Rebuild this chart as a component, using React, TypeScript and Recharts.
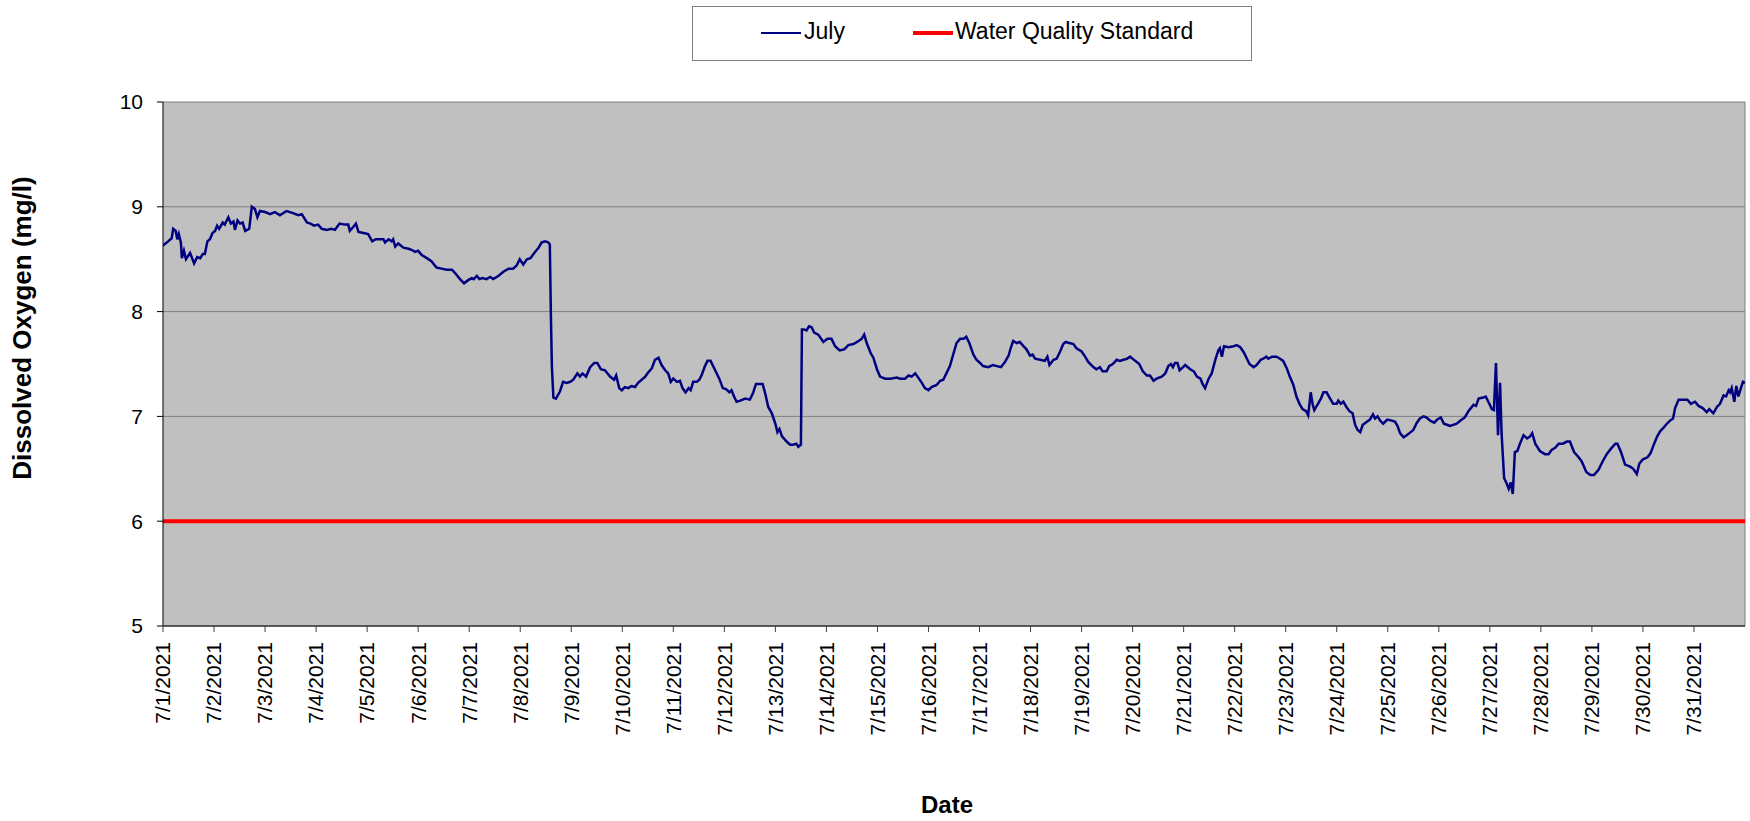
import React from 'react';
import { CartesianGrid, Label, Line, LineChart, ReferenceLine, XAxis, YAxis } from 'recharts';

const FONT = '"Liberation Sans", Arial, sans-serif';

// x axis: days since 7/1/2021 00:00
const tickDays = [0, 1, 2, 3, 4, 5, 6, 7, 8, 9, 10, 11, 12, 13, 14, 15, 16, 17, 18, 19, 20, 21, 22, 23, 24, 25, 26, 27, 28, 29, 30];
const dateLabels = [
  '7/1/2021', '7/2/2021', '7/3/2021', '7/4/2021', '7/5/2021', '7/6/2021', '7/7/2021', '7/8/2021',
  '7/9/2021', '7/10/2021', '7/11/2021', '7/12/2021', '7/13/2021', '7/14/2021', '7/15/2021', '7/16/2021',
  '7/17/2021', '7/18/2021', '7/19/2021', '7/20/2021', '7/21/2021', '7/22/2021', '7/23/2021', '7/24/2021',
  '7/25/2021', '7/26/2021', '7/27/2021', '7/28/2021', '7/29/2021', '7/30/2021', '7/31/2021',
];
const yTicks = [5, 6, 7, 8, 9, 10];

// July dissolved oxygen readings (mg/l)
const julyDays = [
  0.00, 0.10, 0.17, 0.20, 0.25, 0.28, 0.31, 0.35, 0.37, 0.41, 0.45, 0.53, 0.61, 0.67, 0.73, 0.78, 0.82, 0.87, 0.92, 0.97,
  1.02, 1.06, 1.10, 1.17, 1.21, 1.28, 1.33, 1.38, 1.41, 1.46, 1.51, 1.56, 1.61, 1.65, 1.69, 1.74, 1.80, 1.85, 1.90,
  2.00, 2.10, 2.19, 2.29, 2.42, 2.55, 2.65, 2.72, 2.82, 2.89, 2.96,
  3.04, 3.11, 3.21, 3.30, 3.37, 3.46, 3.56, 3.63, 3.66, 3.73, 3.78, 3.83, 3.93,
  4.02, 4.10, 4.17, 4.25, 4.32, 4.35, 4.42, 4.48, 4.51, 4.55, 4.61, 4.71, 4.81, 4.87, 4.94,
  5.00, 5.07, 5.17, 5.26, 5.36, 5.46, 5.56, 5.66, 5.72, 5.82, 5.90, 5.98,
  6.05, 6.09, 6.15, 6.20, 6.26, 6.34, 6.41, 6.47, 6.57, 6.67, 6.77, 6.86, 6.93, 6.99,
  7.06, 7.13, 7.20, 7.26, 7.31, 7.36, 7.42, 7.49, 7.55, 7.58, 7.60, 7.62, 7.65, 7.70, 7.78, 7.84, 7.91, 7.98,
  8.04, 8.12, 8.17, 8.22, 8.29, 8.37, 8.45, 8.51, 8.58, 8.66, 8.76, 8.84, 8.88, 8.94, 8.99,
  9.05, 9.12, 9.18, 9.25, 9.31, 9.38, 9.45, 9.51, 9.58, 9.64, 9.71, 9.77, 9.84, 9.90, 9.95,
  10.00, 10.07, 10.13, 10.18, 10.24, 10.30, 10.34, 10.39, 10.46, 10.51, 10.56, 10.62, 10.67, 10.73, 10.82, 10.90, 10.97,
  11.03, 11.10, 11.14, 11.19, 11.24, 11.31, 11.41, 11.50, 11.56, 11.62, 11.69, 11.75, 11.80, 11.86, 11.93,
  12.00, 12.04, 12.08, 12.13, 12.22, 12.29, 12.35, 12.41, 12.45, 12.50, 12.52, 12.56, 12.61, 12.66, 12.71, 12.76, 12.84, 12.94,
  13.02, 13.10, 13.17, 13.26, 13.35, 13.43, 13.53, 13.63, 13.69, 13.74, 13.79, 13.87, 13.92, 13.99,
  14.05, 14.15, 14.25, 14.38, 14.44, 14.54, 14.61, 14.67, 14.74, 14.80, 14.87, 14.93,
  15.00, 15.06, 15.16, 15.23, 15.29, 15.36, 15.42, 15.49, 15.55, 15.62, 15.69, 15.74, 15.80, 15.88, 15.94,
  16.01, 16.07, 16.17, 16.26, 16.34, 16.42, 16.50, 16.57, 16.61, 16.66, 16.73, 16.79, 16.86, 16.92, 16.99,
  17.04, 17.09, 17.19, 17.28, 17.33, 17.37, 17.45, 17.51, 17.58, 17.64, 17.69, 17.76, 17.84, 17.90,
  18.00, 18.07, 18.13, 18.23, 18.29, 18.36, 18.41, 18.49, 18.54, 18.61, 18.69, 18.75, 18.82, 18.89, 18.95,
  19.05, 19.13, 19.20, 19.28, 19.34, 19.41, 19.47, 19.57, 19.64, 19.70, 19.75, 19.79, 19.83, 19.88, 19.92, 19.99,
  20.03, 20.13, 20.20, 20.26, 20.33, 20.37, 20.42, 20.49, 20.55, 20.62, 20.68, 20.71, 20.75, 20.79, 20.88, 20.98,
  21.04, 21.11, 21.18, 21.24, 21.29, 21.37, 21.43, 21.51, 21.56, 21.62, 21.66, 21.73, 21.82, 21.89, 21.95,
  22.02, 22.08, 22.15, 22.21, 22.27, 22.33, 22.40, 22.44, 22.49, 22.53, 22.56, 22.62, 22.69, 22.74, 22.80, 22.87, 22.93,
  23.00, 23.03, 23.08, 23.13, 23.19, 23.25, 23.31, 23.36, 23.41, 23.46, 23.51, 23.59, 23.65, 23.71, 23.75, 23.80, 23.85, 23.91, 23.99,
  24.08, 24.14, 24.19, 24.24, 24.31, 24.37, 24.45, 24.50, 24.57, 24.63, 24.70, 24.76, 24.83, 24.91, 24.97,
  25.04, 25.10, 25.16, 25.22, 25.35, 25.45, 25.51, 25.58, 25.68, 25.73, 25.78, 25.87, 25.92, 25.97,
  26.04, 26.08, 26.12, 26.16, 26.20, 26.23, 26.28, 26.33, 26.37, 26.41, 26.45, 26.49, 26.54, 26.59, 26.66, 26.73, 26.79, 26.83, 26.89, 26.98,
  27.08, 27.15, 27.21, 27.28, 27.35, 27.43, 27.51, 27.57, 27.65, 27.74, 27.80, 27.89, 27.97,
  28.04, 28.13, 28.21, 28.29, 28.37, 28.46, 28.50, 28.57, 28.65, 28.75, 28.81, 28.88, 28.93,
  29.00, 29.09, 29.15, 29.22, 29.28, 29.34, 29.40, 29.47, 29.53, 29.59, 29.63, 29.70, 29.76, 29.83, 29.87, 29.94,
  30.02, 30.09, 30.17, 30.25, 30.30, 30.38, 30.45, 30.51, 30.58, 30.63, 30.68, 30.71, 30.74, 30.79, 30.83, 30.87, 30.92, 30.96,
  31.00,
];
const julyDO = [
  8.63, 8.67, 8.70, 8.79, 8.77, 8.69, 8.74, 8.66, 8.51, 8.58, 8.50, 8.56, 8.46, 8.52, 8.51, 8.55, 8.55, 8.67, 8.69, 8.75,
  8.77, 8.82, 8.79, 8.85, 8.83, 8.90, 8.84, 8.86, 8.78, 8.87, 8.84, 8.85, 8.77, 8.78, 8.79, 9.00, 8.98, 8.90, 8.96,
  8.95, 8.93, 8.95, 8.92, 8.96, 8.94, 8.92, 8.93, 8.85, 8.84, 8.82,
  8.83, 8.79, 8.78, 8.79, 8.78, 8.84, 8.83, 8.83, 8.77, 8.81, 8.84, 8.76, 8.75,
  8.74, 8.67, 8.69, 8.69, 8.69, 8.66, 8.69, 8.67, 8.69, 8.62, 8.65, 8.61, 8.60, 8.59, 8.57,
  8.58, 8.54, 8.51, 8.48, 8.42, 8.41, 8.40, 8.40, 8.37, 8.31, 8.27, 8.30,
  8.32, 8.31, 8.34, 8.31, 8.32, 8.31, 8.33, 8.31, 8.34, 8.38, 8.41, 8.41, 8.44, 8.50,
  8.45, 8.50, 8.51, 8.55, 8.58, 8.61, 8.66, 8.67, 8.66, 8.64, 7.99, 7.48, 7.18, 7.17, 7.24, 7.33, 7.32, 7.33,
  7.35, 7.41, 7.38, 7.41, 7.38, 7.47, 7.51, 7.51, 7.45, 7.44, 7.38, 7.35, 7.39, 7.27, 7.25,
  7.28, 7.27, 7.29, 7.28, 7.32, 7.35, 7.38, 7.42, 7.46, 7.54, 7.56, 7.49, 7.44, 7.41, 7.33,
  7.36, 7.33, 7.34, 7.27, 7.23, 7.27, 7.25, 7.33, 7.33, 7.35, 7.40, 7.48, 7.53, 7.53, 7.44, 7.36, 7.27,
  7.26, 7.23, 7.25, 7.19, 7.14, 7.15, 7.17, 7.16, 7.22, 7.31, 7.31, 7.31, 7.22, 7.09, 7.03,
  6.93, 6.85, 6.88, 6.81, 6.76, 6.73, 6.73, 6.74, 6.71, 6.73, 7.83, 7.83, 7.82, 7.86, 7.85, 7.80, 7.78, 7.71,
  7.74, 7.74, 7.67, 7.63, 7.64, 7.68, 7.69, 7.72, 7.74, 7.78, 7.70, 7.60, 7.56, 7.45,
  7.38, 7.36, 7.36, 7.37, 7.36, 7.36, 7.39, 7.38, 7.41, 7.37, 7.32, 7.27,
  7.25, 7.28, 7.30, 7.34, 7.35, 7.42, 7.48, 7.60, 7.70, 7.74, 7.74, 7.76, 7.70, 7.59, 7.54,
  7.51, 7.48, 7.47, 7.49, 7.48, 7.47, 7.52, 7.58, 7.65, 7.72, 7.70, 7.71, 7.67, 7.64, 7.58,
  7.59, 7.55, 7.54, 7.53, 7.57, 7.49, 7.54, 7.55, 7.62, 7.69, 7.71, 7.70, 7.69, 7.65,
  7.62, 7.57, 7.52, 7.47, 7.45, 7.47, 7.43, 7.43, 7.48, 7.50, 7.54, 7.53, 7.54, 7.55, 7.57,
  7.53, 7.50, 7.43, 7.39, 7.39, 7.34, 7.36, 7.38, 7.41, 7.48, 7.50, 7.47, 7.51, 7.51, 7.44, 7.47,
  7.49, 7.45, 7.43, 7.38, 7.36, 7.31, 7.27, 7.36, 7.41, 7.54, 7.63, 7.65, 7.57, 7.67, 7.66, 7.67,
  7.68, 7.66, 7.61, 7.55, 7.50, 7.47, 7.49, 7.54, 7.55, 7.57, 7.55, 7.57, 7.57, 7.55, 7.53,
  7.46, 7.38, 7.30, 7.19, 7.12, 7.07, 7.05, 7.01, 7.23, 7.11, 7.06, 7.11, 7.17, 7.23, 7.23, 7.17, 7.12,
  7.12, 7.15, 7.12, 7.14, 7.09, 7.05, 7.03, 6.92, 6.87, 6.85, 6.92, 6.95, 6.97, 7.02, 6.98, 7.00, 6.96, 6.93, 6.97,
  6.96, 6.95, 6.91, 6.84, 6.80, 6.82, 6.85, 6.87, 6.94, 6.98, 7.00, 6.99, 6.96, 6.94, 6.97,
  6.99, 6.93, 6.92, 6.91, 6.93, 6.97, 6.99, 7.05, 7.11, 7.10, 7.17, 7.18, 7.19, 7.14,
  7.07, 7.06, 7.51, 6.82, 7.32, 6.84, 6.41, 6.36, 6.31, 6.37, 6.26, 6.66, 6.67, 6.74, 6.82, 6.79, 6.81, 6.84, 6.74, 6.67,
  6.64, 6.64, 6.68, 6.70, 6.74, 6.74, 6.76, 6.76, 6.66, 6.61, 6.57, 6.47, 6.44,
  6.44, 6.49, 6.57, 6.64, 6.69, 6.74, 6.74, 6.66, 6.54, 6.52, 6.50, 6.45, 6.55,
  6.59, 6.61, 6.65, 6.74, 6.81, 6.86, 6.89, 6.93, 6.96, 6.98, 7.08, 7.16, 7.16, 7.16, 7.16, 7.12,
  7.14, 7.10, 7.08, 7.04, 7.07, 7.03, 7.09, 7.12, 7.20, 7.19, 7.25, 7.23, 7.27, 7.14, 7.29, 7.19, 7.27, 7.33,
  7.32,
];

const standardDays = [0, 31];
const standardLevel = 6;

const julyData = julyDays.map((t, i) => ({ t, july: julyDO[i] }));
const standardData = standardDays.map((t) => ({ t, standard: standardLevel }));

const DateTick = (props: any) => {
  const { x, y, payload } = props;
  return (
    <text
      x={x}
      y={y}
      transform={`rotate(-90, ${x}, ${y})`}
      textAnchor="end"
      dy="0.35em"
      fontSize={21}
      fontFamily={FONT}
      fill="#000"
    >
      {dateLabels[tickDays.indexOf(payload.value)]}
    </text>
  );
};

function ChartLegend() {
  return (
    <div
      style={{
        position: 'absolute',
        left: 692,
        top: 6,
        width: 560,
        height: 55,
        boxSizing: 'border-box',
        border: '1px solid #808080',
        background: '#fff',
        fontFamily: FONT,
        fontSize: 23,
        color: '#000',
      }}
    >
      <div style={{ position: 'absolute', left: 68, top: 25, width: 40, height: 2, background: '#000080' }} />
      <div style={{ position: 'absolute', left: 111, top: 11, lineHeight: '27px' }}>July</div>
      <div style={{ position: 'absolute', left: 220, top: 24, width: 40, height: 4, background: '#FF0000' }} />
      <div style={{ position: 'absolute', left: 262, top: 11, lineHeight: '27px' }}>Water Quality Standard</div>
    </div>
  );
}

export default function App() {
  return (
    <div style={{ position: 'absolute', left: 0, top: 0, width: 1750, height: 821, background: '#fff' }}>
      <ChartLegend />
      <LineChart width={1750} height={821} margin={{ top: 102, right: 5, bottom: 95, left: 103 }}>
        <CartesianGrid horizontal vertical={false} fill="#C0C0C0" fillOpacity={1} stroke="#808080" />
        <XAxis
          type="number"
          dataKey="t"
          domain={[0, 31]}
          ticks={tickDays}
          interval={0}
          height={100}
          tick={<DateTick />}
          tickSize={6}
          tickMargin={10}
          axisLine={{ stroke: '#000' }}
          tickLine={{ stroke: '#404040' }}
          allowDataOverflow
        >
          <Label
            content={() => (
              <text x={947} y={813} textAnchor="middle" fontSize={24} fontWeight="bold" fontFamily={FONT} fill="#000">
                Date
              </text>
            )}
          />
        </XAxis>
        <YAxis
          type="number"
          domain={[5, 10]}
          ticks={yTicks}
          width={60}
          tickSize={6}
          tickMargin={14}
          tick={{ fontSize: 21, fontFamily: FONT, fill: '#000' }}
          axisLine={{ stroke: '#000' }}
          tickLine={{ stroke: '#000' }}
          allowDataOverflow
        >
          <Label
            content={() => (
              <text
                x={31}
                y={328}
                transform="rotate(-90, 31, 328)"
                textAnchor="middle"
                fontSize={26}
                fontWeight="bold"
                fontFamily={FONT}
                fill="#000"
              >
                Dissolved Oxygen (mg/l)
              </text>
            )}
          />
        </YAxis>
        <ReferenceLine x={31} stroke="#808080" />
        <Line
          data={julyData}
          dataKey="july"
          type="linear"
          stroke="#000080"
          strokeWidth={2.5}
          dot={false}
          isAnimationActive={false}
        />
        <Line
          data={standardData}
          dataKey="standard"
          type="linear"
          stroke="#FF0000"
          strokeWidth={4}
          dot={false}
          isAnimationActive={false}
        />
      </LineChart>
    </div>
  );
}
